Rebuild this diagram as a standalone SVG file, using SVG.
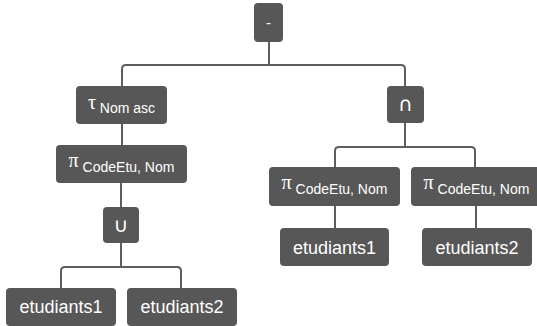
<svg xmlns="http://www.w3.org/2000/svg" width="537" height="326" viewBox="0 0 537 326">
<style>
.box{fill:#575757;}
.t{fill:#ffffff;font-family:"Liberation Sans","DejaVu Sans",Arial,sans-serif;text-anchor:middle;}
.big{font-size:18px;}
.sym{font-family:"Liberation Serif","DejaVu Serif",serif;font-size:20px;}
.sub{font-size:14px;}
.op{font-family:"DejaVu Sans","Liberation Sans",sans-serif;font-size:20px;}
.c{fill:none;stroke:#5e5e5e;stroke-width:2;}
</style>
<rect width="537" height="326" fill="#ffffff"/>
<g id="connectors">
<path class="c" d="M269,42 V65 M126,65 H401 Q405,65 405,69 V86 M126,65 Q122,65 122,69 V86"/>
<path class="c" d="M122,124 V145"/>
<path class="c" d="M121,183 V207"/>
<path class="c" d="M121,243 V267 M65,267 H177 Q181,267 181,271 V288 M65,267 Q61,267 61,271 V288"/>
<path class="c" d="M405,123 V147 M339,147 H471 Q475,147 475,151 V167 M339,147 Q335,147 335,151 V167"/>
<path class="c" d="M335,206 V228"/>
<path class="c" d="M476,206 V228"/>
</g>
<g id="n-minus">
<rect class="box" x="254" y="3" width="29" height="39" rx="4"/>
<text class="t" x="268.5" y="28" font-size="15">-</text>
</g>
<g id="n-tau">
<rect class="box" x="76" y="86" width="91" height="38" rx="4"/>
<text class="t" x="121.5" y="109"><tspan class="sym">τ</tspan><tspan class="sub" dy="4"> Nom asc</tspan></text>
</g>
<g id="n-pi1">
<rect class="box" x="56" y="145" width="131" height="38" rx="4"/>
<text class="t" x="121.5" y="167"><tspan class="sym">π</tspan><tspan class="sub" dy="5"> CodeEtu, Nom</tspan></text>
</g>
<g id="n-union">
<rect class="box" x="103" y="207" width="36" height="36" rx="4"/>
<text class="t op" x="121" y="232">∪</text>
</g>
<g id="n-e1a">
<rect class="box" x="6" y="288" width="110" height="38" rx="4"/>
<text class="t big" x="61" y="313">etudiants1</text>
</g>
<g id="n-e2a">
<rect class="box" x="127" y="288" width="110" height="38" rx="4"/>
<text class="t big" x="182" y="313">etudiants2</text>
</g>
<g id="n-inter">
<rect class="box" x="387" y="86" width="37" height="37" rx="4"/>
<text class="t op" x="405.5" y="111">∩</text>
</g>
<g id="n-pi2">
<rect class="box" x="269" y="167" width="131" height="39" rx="4"/>
<text class="t" x="334.5" y="189"><tspan class="sym">π</tspan><tspan class="sub" dy="5"> CodeEtu, Nom</tspan></text>
</g>
<g id="n-pi3">
<rect class="box" x="411" y="167" width="131" height="39" rx="4"/>
<text class="t" x="476.5" y="189"><tspan class="sym">π</tspan><tspan class="sub" dy="5"> CodeEtu, Nom</tspan></text>
</g>
<g id="n-e1b">
<rect class="box" x="280" y="228" width="109" height="38" rx="4"/>
<text class="t big" x="334.5" y="253.5">etudiants1</text>
</g>
<g id="n-e2b">
<rect class="box" x="422" y="228" width="110" height="38" rx="4"/>
<text class="t big" x="477" y="253.5">etudiants2</text>
</g>
</svg>
